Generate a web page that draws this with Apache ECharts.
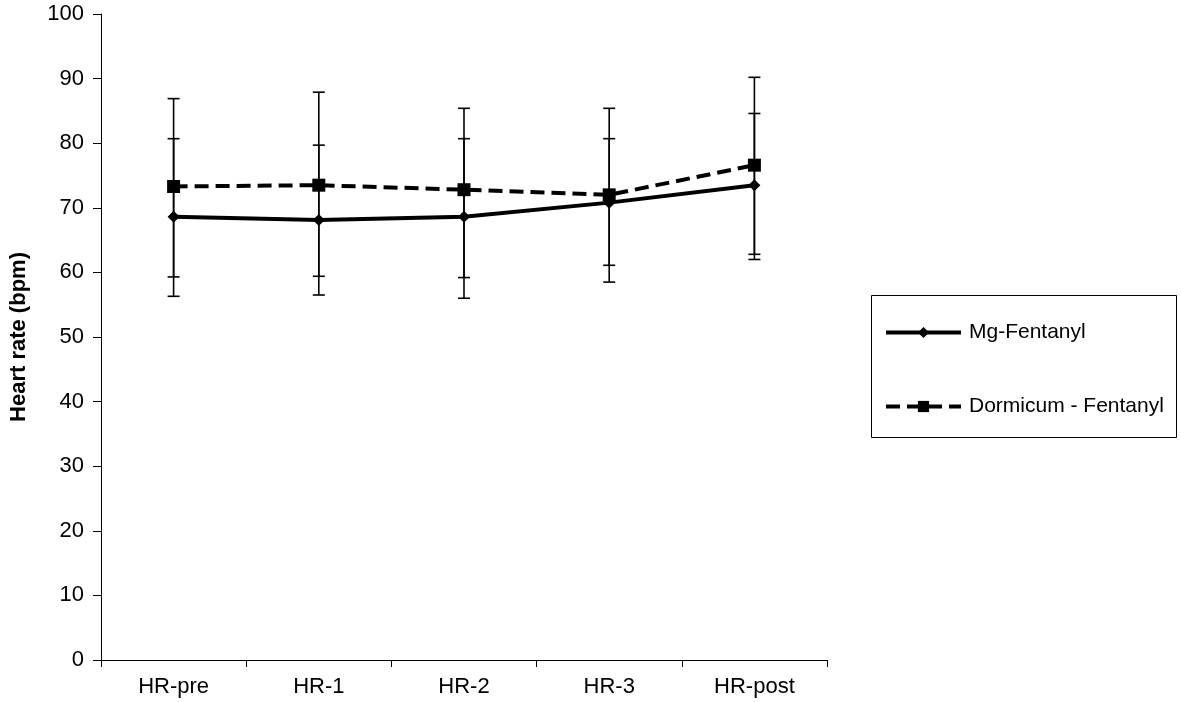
<!DOCTYPE html>
<html>
<head>
<meta charset="utf-8">
<script src="https://cdn.jsdelivr.net/npm/echarts@6/dist/echarts.min.js"></script>
<style>
html,body{margin:0;padding:0;background:#fff;}
#chart{width:1181px;height:703px;}
</style>
</head>
<body>
<div id="chart"></div>
<script>
const categories = ['HR-pre', 'HR-1', 'HR-2', 'HR-3', 'HR-post'];
const mgMean = [68.6, 68.1, 68.6, 70.8, 73.5];
const mgUpper = [80.7, 79.7, 80.7, 80.7, 84.6];
const mgLower = [56.3, 56.5, 56.0, 61.1, 62.8];
const dorMean = [73.3, 73.5, 72.8, 72.0, 76.6];
const dorUpper = [86.9, 87.9, 85.4, 85.4, 90.2];
const dorLower = [59.3, 59.4, 59.2, 58.5, 62.0];
const yTicks = [0, 10, 20, 30, 40, 50, 60, 70, 80, 90, 100];

const errData = [];
categories.forEach((c, i) => {
  errData.push([i, mgLower[i], mgUpper[i]]);
  errData.push([i, dorLower[i], dorUpper[i]]);
});

function renderErr(params, api) {
  const x = api.value(0);
  const lo = api.coord([x, api.value(1)]);
  const hi = api.coord([x, api.value(2)]);
  const hw = 6;
  const style = {stroke: '#000', lineWidth: 1.6, fill: null};
  return {
    type: 'group',
    children: [
      {type: 'line', shape: {x1: lo[0], y1: lo[1], x2: hi[0], y2: hi[1]}, style: style},
      {type: 'line', shape: {x1: lo[0] - hw, y1: lo[1], x2: lo[0] + hw, y2: lo[1]}, style: style},
      {type: 'line', shape: {x1: hi[0] - hw, y1: hi[1], x2: hi[0] + hw, y2: hi[1]}, style: style}
    ]
  };
}

const FONT = 'Liberation Sans, Arial, sans-serif';
const chart = echarts.init(document.getElementById('chart'));
chart.setOption({
  animation: false,
  backgroundColor: '#fff',
  textStyle: {fontFamily: FONT, color: '#000'},
  grid: {left: 99, right: 354, top: 14, bottom: 43},
  graphic: [{
    type: 'rect',
    shape: {x: 871.5, y: 295.5, width: 305, height: 142},
    style: {fill: null, stroke: '#000', lineWidth: 1},
    silent: true
  }],
  legend: {
    orient: 'vertical',
    left: 884,
    top: 322,
    padding: 0,
    itemGap: 53,
    itemWidth: 75,
    itemHeight: 14,
    lineStyle: {width: 4, color: '#000'},
    textStyle: {fontSize: 21, color: '#000', fontFamily: FONT, padding: [0, 0, 0, 3]},
    data: ['Mg-Fentanyl', 'Dormicum - Fentanyl']
  },
  xAxis: {
    type: 'category',
    data: categories,
    boundaryGap: true,
    axisLine: {lineStyle: {color: '#000', width: 1}},
    axisTick: {show: true, interval: 0, length: 7, lineStyle: {color: '#000'}},
    axisLabel: {fontSize: 22, color: '#000', margin: 16, fontFamily: FONT}
  },
  yAxis: {
    type: 'value',
    min: 0,
    max: 100,
    interval: 10,
    name: 'Heart rate (bpm)',
    nameLocation: 'middle',
    nameGap: 71,
    nameTextStyle: {fontSize: 22, fontWeight: 'bold', color: '#000', fontFamily: FONT},
    axisLine: {show: true, lineStyle: {color: '#000', width: 1}},
    axisTick: {show: true, length: 8, lineStyle: {color: '#000'}},
    axisLabel: {fontSize: 22, color: '#000', margin: 17, fontFamily: FONT,
      formatter: v => yTicks.indexOf(v) >= 0 ? String(v) : ''},
    splitLine: {show: false}
  },
  series: [
    {
      type: 'custom',
      name: 'err',
      renderItem: renderErr,
      data: errData,
      z: 1,
      silent: true
    },
    {
      name: 'Mg-Fentanyl',
      type: 'line',
      data: mgMean,
      symbol: 'diamond',
      symbolSize: 12,
      itemStyle: {color: '#000'},
      lineStyle: {color: '#000', width: 4},
      z: 3
    },
    {
      name: 'Dormicum - Fentanyl',
      type: 'line',
      data: dorMean,
      symbol: 'rect',
      symbolSize: 13,
      itemStyle: {color: '#000'},
      lineStyle: {color: '#000', width: 4, type: [14, 7]},
      z: 2
    }
  ]
});
</script>
</body>
</html>
